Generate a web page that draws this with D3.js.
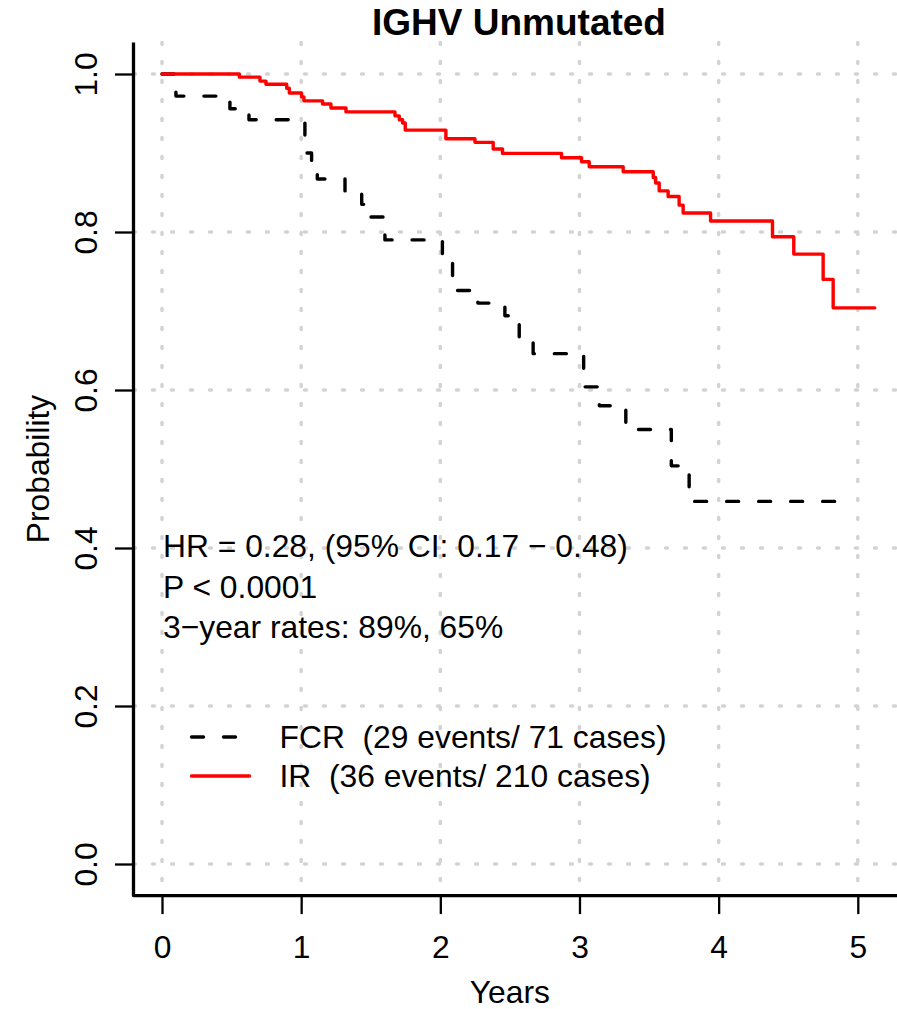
<!DOCTYPE html>
<html>
<head>
<meta charset="utf-8">
<script src="https://cdn.jsdelivr.net/npm/d3@7"></script>
<style>
  html, body { margin: 0; padding: 0; background: #ffffff; }
  svg { display: block; }
  text { font-family: "Liberation Sans", Arial, Helvetica, sans-serif; fill: #000; white-space: pre; }
</style>
</head>
<body>
<svg id="chart" width="897" height="1009"></svg>
<script>
// Kaplan–Meier step curves (time in years, survival probability after each step)
const fcrTimes = [0, 0.100, 0.488, 0.625, 1.027, 1.075, 1.116, 1.315, 1.435, 1.494, 1.602,
                  2.015, 2.088, 2.270, 2.464, 2.567, 2.667, 3.030, 3.143, 3.333, 3.660, 3.788];
const fcrSurv  = [1.000, 0.972, 0.956, 0.942, 0.900, 0.884, 0.867, 0.852, 0.835, 0.819, 0.790,
                  0.772, 0.726, 0.710, 0.694, 0.662, 0.646, 0.604, 0.580, 0.550, 0.504, 0.459];
const fcrEnd = 4.90;

const irTimes = [0, 0.556, 0.704, 0.747, 0.896, 0.915, 1.003, 1.020, 1.154, 1.214, 1.322,
                 1.674, 1.705, 1.729, 1.748, 2.040, 2.249, 2.380, 2.447, 2.871, 3.015, 3.070,
                 3.314, 3.530, 3.547, 3.573, 3.637, 3.716, 3.745, 3.942, 4.387, 4.540, 4.751, 4.823];
const irSurv  = [1.000, 0.996, 0.991, 0.987, 0.982, 0.976, 0.971, 0.966, 0.962, 0.957, 0.952,
                 0.947, 0.942, 0.938, 0.929, 0.918, 0.9135, 0.905, 0.8995, 0.894, 0.889, 0.8826,
                 0.8763, 0.869, 0.862, 0.852, 0.845, 0.834, 0.824, 0.814, 0.794, 0.772, 0.740, 0.704];
const irEnd = 5.122;

const xTicks = [0, 1, 2, 3, 4, 5];
const yTicks = [0, 0.2, 0.4, 0.6, 0.8, 1.0];

const titleText = "IGHV Unmutated";
const xLabel = "Years";
const yLabel = "Probability";
const statLines = ["HR = 0.28, (95% CI: 0.17 \u2212 0.48)", "P < 0.0001", "3\u2212year rates: 89%, 65%"];
const legendLabels = ["FCR  (29 events/ 71 cases)", "IR  (36 events/ 210 cases)"];

// ---- layout ----
const plot = { left: 133.5, right: 903, top: 42.4, bottom: 895.6 };
const xMax = 5.12;
const xPad = xMax * 0.04, yPad = 0.04;
const x = d3.scaleLinear().domain([-xPad, xMax + xPad]).range([plot.left, plot.right]);
const y = d3.scaleLinear().domain([-yPad, 1 + yPad]).range([plot.bottom, plot.top]);

const svg = d3.select("#chart");
const fontSize = 31.8;

// ---- dotted grid ----
const grid = svg.append("g")
  .attr("stroke", "#d3d3d3").attr("stroke-width", 3.5)
  .attr("stroke-dasharray", "2,17").attr("stroke-linecap", "round");
grid.selectAll("line.v").data(xTicks).join("line")
  .attr("x1", d => x(d)).attr("x2", d => x(d))
  .attr("y1", plot.top).attr("y2", plot.bottom);
grid.selectAll("line.h").data(yTicks).join("line")
  .attr("x1", plot.left).attr("x2", plot.right)
  .attr("y1", d => y(d)).attr("y2", d => y(d));

// ---- step curves ----
function stepPoints(times, surv, end) {
  const pts = times.map((t, i) => [t, surv[i]]);
  pts.push([end, surv[surv.length - 1]]);
  return pts;
}
const line = d3.line().x(d => x(d[0])).y(d => y(d[1])).curve(d3.curveStepAfter);

svg.append("path")
  .datum(stepPoints(fcrTimes, fcrSurv, fcrEnd))
  .attr("d", line)
  .attr("fill", "none").attr("stroke", "#000").attr("stroke-width", 3.4)
  .attr("stroke-dasharray", "12,20").attr("stroke-linecap", "round").attr("stroke-linejoin", "round");

svg.append("path")
  .datum(stepPoints(irTimes, irSurv, irEnd))
  .attr("d", line)
  .attr("fill", "none").attr("stroke", "#ff0000").attr("stroke-width", 3.4)
  .attr("stroke-linecap", "round").attr("stroke-linejoin", "round");

// ---- axes ----
const tickLen = 18.5;
const xAxis = svg.append("g")
  .attr("transform", `translate(0,${plot.bottom})`)
  .call(d3.axisBottom(x).tickValues(xTicks).tickFormat(d3.format("d")).tickSize(tickLen));
xAxis.select(".domain").remove();
xAxis.selectAll(".tick line").attr("stroke", "#000").attr("stroke-width", 2.3);
xAxis.selectAll(".tick text")
  .attr("y", 62.4).attr("dy", null)
  .attr("font-size", fontSize).attr("font-family", null).attr("fill", "#000");

const yAxis = svg.append("g")
  .attr("transform", `translate(${plot.left},0)`)
  .call(d3.axisLeft(y).tickValues(yTicks).tickFormat(d3.format(".1f")).tickSize(tickLen));
yAxis.select(".domain").remove();
yAxis.selectAll(".tick line").attr("stroke", "#000").attr("stroke-width", 2.3);
yAxis.selectAll(".tick text")
  .attr("x", null).attr("dy", null).attr("y", null)
  .attr("text-anchor", "middle")
  .attr("transform", "translate(-36.5,0) rotate(-90)")
  .attr("font-size", fontSize).attr("font-family", null).attr("fill", "#000");

// L-shaped frame
svg.append("path")
  .attr("d", `M${plot.left},${plot.top}V${plot.bottom}H${plot.right}`)
  .attr("fill", "none").attr("stroke", "#000").attr("stroke-width", 3.3)
  .attr("stroke-linecap", "butt").attr("stroke-linejoin", "round");

// ---- titles ----
svg.append("text")
  .attr("x", 519).attr("y", 35)
  .attr("text-anchor", "middle").attr("font-weight", "bold").attr("font-size", 37)
  .text(titleText);

svg.append("text")
  .attr("x", x(2.5)).attr("y", 1003)
  .attr("text-anchor", "middle").attr("font-size", fontSize)
  .text(xLabel);

svg.append("text")
  .attr("transform", `translate(48.5,${y(0.5)}) rotate(-90)`)
  .attr("text-anchor", "middle").attr("font-size", fontSize)
  .text(yLabel);

// ---- statistics annotation ----
const statBaselines = [557, 598, 638];
svg.append("g").selectAll("text").data(statLines).join("text")
  .attr("x", 163).attr("y", (d, i) => statBaselines[i])
  .attr("font-size", fontSize)
  .text(d => d);

// ---- legend ----
const legendKeys = [
  { color: "#000", dash: "12,20" },
  { color: "#ff0000", dash: null }
];
const legendY = [737, 776];
const legend = svg.append("g");
legend.selectAll("line").data(legendKeys).join("line")
  .attr("x1", 191.5).attr("x2", 249.5)
  .attr("y1", (d, i) => legendY[i]).attr("y2", (d, i) => legendY[i])
  .attr("stroke", d => d.color).attr("stroke-width", 3.4)
  .attr("stroke-linecap", "round")
  .attr("stroke-dasharray", d => d.dash);
legend.selectAll("text").data(legendLabels).join("text")
  .attr("x", 279.5).attr("y", (d, i) => legendY[i] + 11)
  .attr("font-size", fontSize)
  .text(d => d);
</script>
</body>
</html>
